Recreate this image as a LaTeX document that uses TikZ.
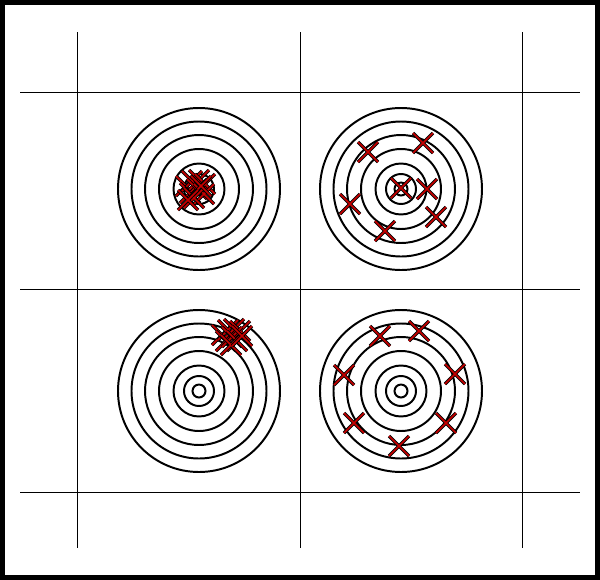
\documentclass[tikz,border=0pt]{standalone}
\usepackage{tikz}
\usetikzlibrary{positioning}
\definecolor{hitred}{RGB}{200,0,0}

\tikzset{
  grid/.style={line width=0.7pt},
  ring/.style={line width=1.4pt},
  hit/.pic={
    \draw[line width=2.4pt,black] (-10,-10)--(10,10) (-10,10)--(10,-10);
    \draw[line width=1.1pt,hitred] (-10,-10)--(10,10) (-10,10)--(10,-10);
  }
}

\begin{document}
\begin{tikzpicture}[x=0.025cm,y=-0.025cm]
% frame
\fill[black] (0,0) rectangle (600,580);
\fill[white] (5,5) rectangle (595,575);
\useasboundingbox (0,0) rectangle (600,580);
% grid
\draw[grid] (77,32)--(77,548);
\draw[grid] (300,32)--(300,548);
\draw[grid] (522,32)--(522,548);
\draw[grid] (20,92)--(580,92);
\draw[grid] (20,289)--(580,289);
\draw[grid] (20,492)--(580,492);
% targets
\coordinate (tl) at (199,189);
\coordinate (tr) at (401,189);
\coordinate (bl) at (199,391);
\coordinate (br) at (401,391);
\foreach \t in {tl,tr,bl,br}
  \foreach \r in {81,67.5,54,40,25.5,15,6.5}
    \draw[ring] (\t) circle (\r);
% top left: tight and centred
\foreach \p in {(186,186),(192,181),(199,180),(205,184),(190,193),(197,189),(204,194),(194,198),(201,186),(188,200)}
  \pic at \p {hit};
% top right: spread out
\foreach \p in {(368,152),(423,143),(401,188),(427,189),(350,204),(436,217),(385,231)}
  \pic at \p {hit};
% bottom left: tight but off centre
\foreach \p in {(222,335),(228,330),(234,329),(240,331),(226,341),(232,337),(237,341),(231,345),(242,336)}
  \pic at \p {hit};
% bottom right: spread round the middle
\foreach \p in {(380,336),(419,331),(344,375),(455,374),(354,423),(446,423),(399,446)}
  \pic at \p {hit};
\end{tikzpicture}
\end{document}
